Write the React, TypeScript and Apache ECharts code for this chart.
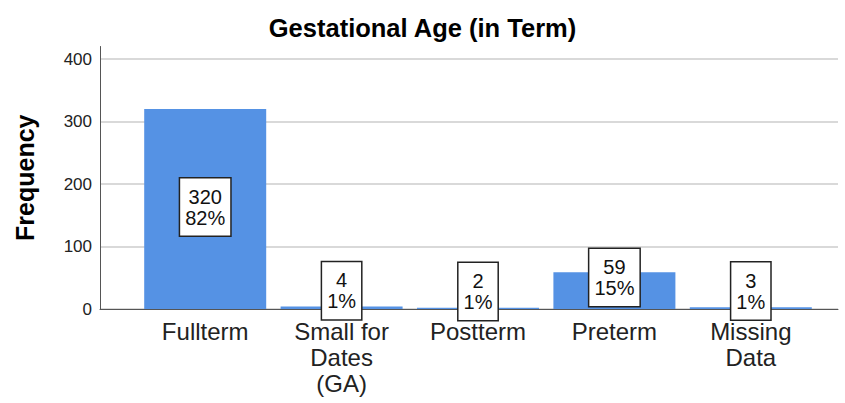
import React, { useEffect, useRef } from "react";
import * as echarts from "echarts";

const categories = ["Fullterm", "Small for\nDates\n(GA)", "Postterm", "Preterm", "Missing\nData"];
const counts = [320, 4, 2, 59, 3];
const yTicks = [0, 100, 200, 300, 400];
const labelOffsets = [-2, -17, -17, -13, -17];

const FONT = "'Liberation Sans', Arial, sans-serif";

export default function App() {
  const ref = useRef<HTMLDivElement>(null);
  useEffect(() => {
    const chart = echarts.init(ref.current!, null, { renderer: "svg" });
    const total = counts.reduce((a, b) => a + b, 0);
    const gridTop = 46.5;
    const gridBottom = 94;
    const yMax = 420;
    chart.setOption({
      animation: false,
      backgroundColor: "#ffffff",
      title: {
        text: "Gestational Age (in Term)",
        left: "center",
        top: 10,
        textStyle: { fontFamily: FONT, fontSize: 25.5, fontWeight: "bold", color: "#000" },
      },
      grid: [
        { left: 100, right: 7, top: gridTop, bottom: gridBottom },
        { left: 137, right: 26, top: gridTop, bottom: gridBottom },
      ],
      xAxis: [
        {
          gridIndex: 0,
          type: "category",
          data: categories,
          axisLine: { show: true, lineStyle: { color: "#555", width: 1 } },
          axisTick: { show: false },
          axisLabel: { show: false },
          splitLine: { show: false },
        },
        {
          gridIndex: 1,
          type: "category",
          data: categories,
          axisLine: { show: false },
          axisTick: { show: false },
          axisLabel: {
            fontFamily: FONT,
            fontSize: 24,
            color: "#222",
            margin: 9,
            lineHeight: 26,
            interval: 0,
          },
        },
      ],
      yAxis: [
        {
          gridIndex: 0,
          type: "value",
          min: 0,
          max: yMax,
          interval: 100,
          name: "Frequency",
          nameLocation: "middle",
          nameGap: 63,
          nameTextStyle: { fontFamily: FONT, fontSize: 25, fontWeight: "bold", color: "#000" },
          axisLine: { show: true, lineStyle: { color: "#555", width: 1 } },
          axisTick: { show: false },
          axisLabel: {
            fontFamily: FONT,
            fontSize: 17,
            color: "#222",
            margin: 8,
            formatter: (v: number) => (yTicks.includes(v) ? String(v) : ""),
          },
          splitLine: {
            show: true,
            lineStyle: {
              color: ["#cccccc", "#cccccc", "#cccccc", "#cccccc", "#cccccc", "rgba(0,0,0,0)"],
              width: 1.5,
            },
          },
        },
        {
          gridIndex: 1,
          type: "value",
          min: 0,
          max: yMax,
          interval: 100,
          show: false,
          splitLine: { show: false },
        },
      ],
      series: [
        {
          type: "bar",
          xAxisIndex: 1,
          yAxisIndex: 1,
          barWidth: 122,
          itemStyle: { color: "#5592e4" },
          data: counts.map((v, i) => ({
            value: v,
            label: {
              show: true,
              position: "inside",
              offset: [0, labelOffsets[i]],
              formatter: `${v}\n${Math.round((v / total) * 100)}%`,
              fontFamily: FONT,
              fontSize: 20,
              lineHeight: 21,
              color: "#111",
              backgroundColor: "#ffffff",
              borderColor: "#222",
              borderWidth: 1.5,
              padding: [8, 5, 7, 5],
              align: "center",
            },
          })),
        },
      ],
    });
    return () => chart.dispose();
  }, []);
  return (
    <div
      ref={ref}
      style={{ position: "fixed", left: 0, top: 0, width: 845, height: 403 }}
    />
  );
}
